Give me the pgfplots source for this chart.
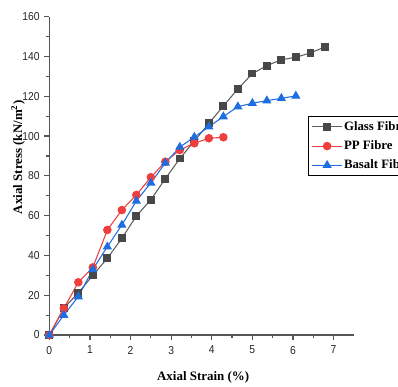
\documentclass[border=0pt]{standalone}
\usepackage{fontspec}
\setmainfont{Liberation Serif}
\newfontfamily\ticksans[FakeStretch=0.9]{Liberation Sans}
\usepackage{pgfplots}
\pgfplotsset{compat=1.18}

\definecolor{glassline}{RGB}{95,95,95}
\definecolor{glassfill}{RGB}{72,72,72}
\definecolor{ppred}{RGB}{238,62,62}
\definecolor{basblue}{RGB}{30,110,225}
\definecolor{axisgray}{RGB}{85,85,85}

% stress-strain readings, strain steps of 0.357 %
\pgfplotstableread{
x      y
0.000  0
0.357  13.5
0.714  21.2
1.071  30.0
1.429  38.6
1.786  48.6
2.143  59.8
2.500  68.0
2.857  78.6
3.214  88.7
3.571  97.5
3.929  106.4
4.286  115.1
4.643  123.7
5.000  131.4
5.357  135.4
5.714  138.4
6.071  139.6
6.429  141.8
6.786  144.8
}\glass

\pgfplotstableread{
x      y
0.000  0
0.357  13.4
0.714  26.5
1.071  34.0
1.429  52.8
1.786  62.8
2.143  70.4
2.500  79.3
2.857  87.1
3.214  93.0
3.571  96.4
3.929  98.9
4.286  99.4
}\pp

\pgfplotstableread{
x      y
0.000  0
0.357  10.0
0.714  19.3
1.071  33.0
1.429  44.4
1.786  55.3
2.143  67.4
2.500  76.5
2.857  86.5
3.214  94.5
3.571  99.5
3.929  104.7
4.286  109.8
4.643  114.8
5.000  116.5
5.357  117.8
5.714  119.0
6.071  120.2
}\basalt

\begin{document}
\begin{tikzpicture}
% fixed frame: the legend runs past the right edge
\useasboundingbox (-37pt,-38.25pt) rectangle (261.5pt,251.25pt);
\begin{axis}[
  at={(0pt,0pt)}, anchor=south west,
  scale only axis, width=228.4pt, height=238.7pt,
  xmin=0, xmax=7.5, ymin=0, ymax=160,
  axis lines=left,
  axis line style={axisgray, line width=1pt, -},
  xtick={0,1,...,7}, minor x tick num=1,
  ytick={0,20,...,160}, minor y tick num=1,
  tick align=outside,
  major tick length=3.75pt, minor tick length=2.2pt,
  every tick/.style={axisgray, line width=0.9pt},
  /pgf/number format/assume math mode=true,
  tick label style={font=\ticksans\fontsize{8.6}{10}\selectfont, text=black!85},
  xticklabel style={yshift=-1pt},
  xlabel={Axial Strain (\%)},
  ylabel={Axial Stress (kN/m$^{\mathbf{2}}$)},
  label style={font=\fontsize{9.7}{12}\selectfont\bfseries},
  xlabel style={at={(axis description cs:0.505,-0.132)}, anchor=center},
  ylabel style={at={(axis description cs:-0.103,0.558)}, anchor=center},
  clip=false,
  legend cell align=left,
  legend style={
    at={(axis description cs:0.85,0.688)}, anchor=north west,
    draw=black, line width=0.8pt, fill=white,
    font=\fontsize{9.6}{11.5}\selectfont\bfseries,
    row sep=3.6pt, inner sep=2.4pt,
    nodes={inner sep=1.3pt},
  },
  legend image code/.code={
    \draw[mark repeat=2, mark phase=2, #1]
      plot coordinates {(0pt,0pt) (11pt,0pt) (22pt,0pt)};
  },
]
\addplot[glassline, line width=0.8pt, mark=square*, mark size=2.5pt,
  mark options={fill=glassfill, draw=glassfill}] table[x=x,y=y] {\glass};
\addlegendentry{Glass Fibre}
\addplot[ppred, line width=0.8pt, mark=*, mark size=2.8pt,
  mark options={fill=ppred, draw=ppred}] table[x=x,y=y] {\pp};
\addlegendentry{PP Fibre}
\addplot[basblue, line width=0.8pt, mark=triangle*, mark size=3.2pt,
  mark options={fill=basblue, draw=basblue}] table[x=x,y=y] {\basalt};
\addlegendentry{Basalt Fibre}
\end{axis}
\end{tikzpicture}
\end{document}
